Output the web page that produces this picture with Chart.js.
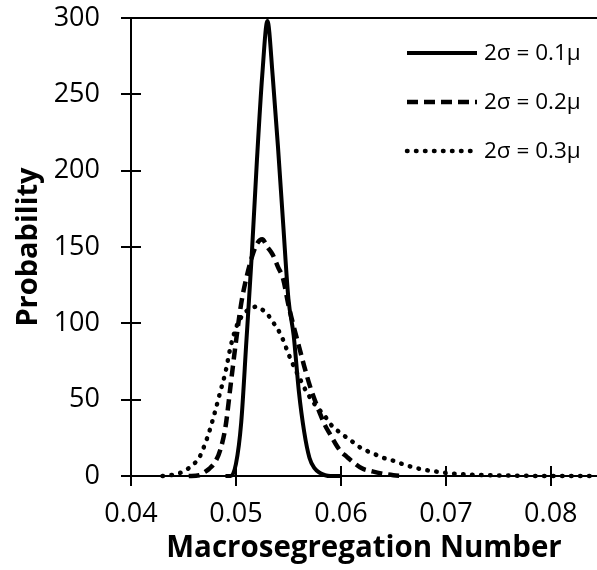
<!DOCTYPE html>
<html>
<head>
<meta charset="utf-8">
<script src="https://cdn.jsdelivr.net/npm/chart.js@4.4.0/dist/chart.umd.min.js"></script>
<style>
  html, body { margin: 0; padding: 0; background: #fff; }
</style>
</head>
<body>
<canvas id="chart" width="597" height="570"></canvas>
<script>
const xTicks = [0.04, 0.05, 0.06, 0.07, 0.08];
const yTicks = [0, 50, 100, 150, 200, 250, 300];
const seriesLabels = ["2σ = 0.1μ", "2σ = 0.2μ", "2σ = 0.3μ"];

// 2σ = 0.1μ
const narrowX = [0.0490, 0.0495, 0.0500, 0.0505, 0.0510, 0.0515, 0.0520, 0.0525, 0.0530, 0.0535, 0.0540,
  0.0545, 0.0550, 0.0555, 0.0560, 0.0565, 0.0570, 0.0575, 0.0580, 0.0585, 0.0590, 0.0600];
const narrowY = [0, 0, 8, 35, 89, 144, 207, 262, 298, 262, 216,
  165, 116, 92, 55, 29, 12, 5, 2, 0.5, 0, 0];

// 2σ = 0.2μ
const mediumX = [0.0455, 0.0465, 0.0470, 0.0475, 0.0480, 0.0485, 0.0490, 0.0495, 0.0500, 0.0505, 0.0510,
  0.0515, 0.0520, 0.0525, 0.0530, 0.0535, 0.0540, 0.0545, 0.0550, 0.0555, 0.0560, 0.0565, 0.0570,
  0.0575, 0.0580, 0.0585, 0.0590, 0.0595, 0.0600, 0.0605, 0.0610, 0.0620, 0.0630, 0.0640, 0.0650, 0.0660];
const mediumY = [0, 0.5, 2.5, 5, 9, 17, 32, 60, 88, 113, 130,
  143, 152, 155, 150, 145, 137, 129, 112, 98, 85, 72, 60,
  50, 41, 33, 27, 21, 16, 13, 10, 5, 3, 1.5, 0.5, 0];

// 2σ = 0.3μ
const wideX = [0.0430, 0.0440, 0.0450, 0.0460, 0.0465, 0.0470, 0.0475, 0.0480, 0.0485, 0.0490, 0.0495,
  0.0500, 0.0505, 0.0510, 0.0515, 0.0520, 0.0525, 0.0530, 0.0535, 0.0540, 0.0545, 0.0550, 0.0555,
  0.0560, 0.0565, 0.0570, 0.0575, 0.0580, 0.0585, 0.0590, 0.0600, 0.0610, 0.0620, 0.0630, 0.0640,
  0.0650, 0.0660, 0.0670, 0.0680, 0.0690, 0.0700, 0.0720, 0.0740, 0.0760, 0.0780, 0.0800, 0.0844];
const wideY = [0, 0.8, 3, 8, 12, 20, 30, 42, 55, 68, 85,
  97, 104, 108, 110, 111, 109, 106, 101, 96, 89, 80, 72,
  65, 58, 52, 47, 43, 39, 34, 28, 23, 18, 15, 12,
  10, 7.5, 5.5, 4, 3, 2, 1, 0.5, 0.3, 0.1, 0, 0];

const FONT = '"Open Sans", "DejaVu Sans", sans-serif';

function toPoints(xs, ys) {
  return xs.map((x, i) => ({ x, y: ys[i] }));
}

// inner halves of the tick marks, plus the line along the top of the plot
const axisExtras = {
  id: "axisExtras",
  afterDraw(chart) {
    const { ctx, chartArea, scales } = chart;
    ctx.save();
    ctx.strokeStyle = "#000";
    ctx.lineWidth = 2;
    ctx.beginPath();
    scales.y.ticks.forEach((t, i) => {
      const py = Math.round(scales.y.getPixelForTick(i));
      ctx.moveTo(chartArea.left, py);
      ctx.lineTo(chartArea.left + 10, py);
    });
    scales.x.ticks.forEach((t, i) => {
      const px = Math.round(scales.x.getPixelForTick(i));
      ctx.moveTo(px, chartArea.bottom);
      ctx.lineTo(px, chartArea.bottom - 10);
    });
    const top = Math.round(scales.y.getPixelForValue(300));
    ctx.moveTo(chartArea.left - 10, top);
    ctx.lineTo(chartArea.right, top);
    ctx.stroke();
    ctx.restore();
  }
};

const cornerLegend = {
  id: "cornerLegend",
  afterDraw(chart) {
    const { ctx, chartArea } = chart;
    chart.data.datasets.forEach((ds, i) => {
      const y = chartArea.top + 35 + i * 49;
      const x0 = chartArea.right - 190;
      const x1 = chartArea.right - 120;
      ctx.save();
      ctx.strokeStyle = ds.borderColor;
      ctx.lineWidth = ds.borderWidth;
      ctx.lineCap = ds.borderCapStyle || "butt";
      ctx.setLineDash(ds.borderDash || []);
      ctx.beginPath();
      ctx.moveTo(x0, y);
      ctx.lineTo(x1, y);
      ctx.stroke();
      ctx.setLineDash([]);
      ctx.fillStyle = "#000";
      ctx.font = `22.5px ${FONT}`;
      ctx.textBaseline = "middle";
      ctx.fillText(ds.label, x1 + 7, y + 1);
      ctx.restore();
    });
  }
};

new Chart(document.getElementById("chart"), {
  type: "line",
  data: {
    datasets: [
      {
        label: seriesLabels[0],
        data: toPoints(narrowX, narrowY),
        borderColor: "#000",
        borderWidth: 4,
        cubicInterpolationMode: "monotone",
        pointRadius: 0,
        clip: 6
      },
      {
        label: seriesLabels[1],
        data: toPoints(mediumX, mediumY),
        borderColor: "#000",
        borderWidth: 4.5,
        borderDash: [11, 6],
        cubicInterpolationMode: "monotone",
        pointRadius: 0,
        clip: 6
      },
      {
        label: seriesLabels[2],
        data: toPoints(wideX, wideY),
        borderColor: "#000",
        borderWidth: 4.5,
        borderDash: [0.5, 8.5],
        borderCapStyle: "round",
        cubicInterpolationMode: "monotone",
        pointRadius: 0,
        clip: 6
      }
    ]
  },
  options: {
    responsive: false,
    animation: false,
    layout: { padding: 0 },
    plugins: {
      legend: { display: false },
      tooltip: { enabled: false }
    },
    scales: {
      x: {
        type: "linear",
        min: 0.04,
        max: 0.0844,
        afterBuildTicks: (s) => { s.ticks = xTicks.map((v) => ({ value: v })); },
        afterFit: (s) => {
          s.height = 94;
          s.paddingLeft = 0;
          s.paddingRight = 0;
        },
        ticks: {
          color: "#000",
          font: { family: FONT, size: 27 },
          padding: 12,
          maxRotation: 0,
          autoSkip: false,
          callback: (v) => Number(v).toFixed(2)
        },
        grid: { drawOnChartArea: false, color: "#000", lineWidth: 2, tickLength: 10 },
        border: { color: "#000", width: 2 },
        title: {
          display: true,
          text: "Macrosegregation Number",
          color: "#000",
          font: { family: FONT, size: 29.5, weight: "bold" },
          padding: { top: 0, bottom: 4 }
        }
      },
      y: {
        min: 0,
        max: 300,
        afterBuildTicks: (s) => { s.ticks = yTicks.map((v) => ({ value: v })); },
        afterFit: (s) => {
          s.width = 131;
          s.paddingTop = 18;
          s.paddingBottom = 0;
        },
        ticks: {
          color: "#000",
          font: { family: FONT, size: 27 },
          padding: 21,
          autoSkip: false
        },
        grid: { drawOnChartArea: false, color: "#000", lineWidth: 2, tickLength: 10 },
        border: { color: "#000", width: 2 },
        title: {
          display: true,
          text: "Probability",
          color: "#000",
          font: { family: FONT, size: 29, weight: "bold" },
          padding: { top: 11, bottom: 0 }
        }
      }
    }
  },
  plugins: [axisExtras, cornerLegend]
});
</script>
</body>
</html>
